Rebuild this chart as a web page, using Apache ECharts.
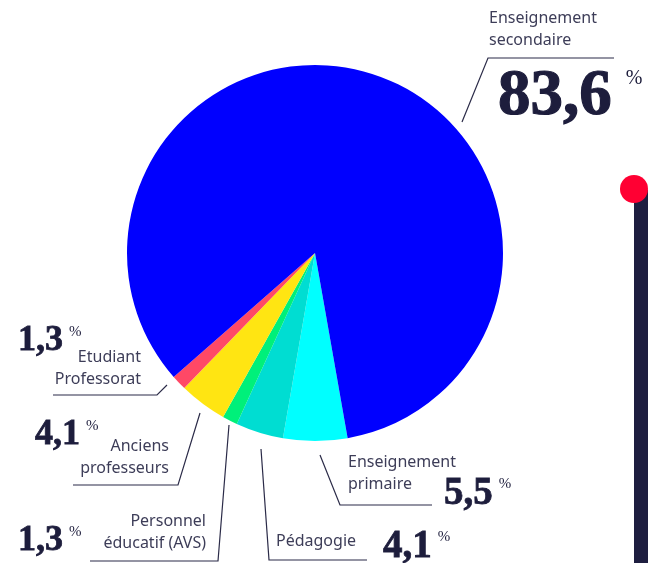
<!DOCTYPE html>
<html><head><meta charset="utf-8">
<script src="https://cdn.jsdelivr.net/npm/echarts@6/dist/echarts.min.js"></script>
<style>html,body{margin:0;padding:0;background:#fff}#c{width:648px;height:563px}</style>
</head><body><div id="c"></div>
<script>
// ---- data ----
const categories = ['Enseignement\nprimaire', 'Pédagogie', 'Personnel\néducatif (AVS)', 'Anciens\nprofesseurs', 'Etudiant\nProfessorat', 'Enseignement\nsecondaire'];
const values = [5.5, 4.1, 1.3, 4.1, 1.3, 83.6];
const valueLabels = ['5,5', '4,1', '1,3', '4,1', '1,3', '83,6'];

// ---- styles / layout ----
const colors = ['#00FFFF', '#00DDD2', '#00F07A', '#FFE512', '#FF4866', '#0000FF'];
const nameLayout = [
  {x: 348, y: 473, align: 'left',  line: [[320, 455], [340, 505], [432, 505]]},
  {x: 276, y: 541, align: 'left',  line: [[261, 449], [269, 560], [367, 560]]},
  {x: 206, y: 532, align: 'right', line: [[229, 425], [218, 561], [90, 561]]},
  {x: 169, y: 457, align: 'right', line: [[200, 413], [178, 485], [73, 485]]},
  {x: 141, y: 368, align: 'right', line: [[167, 385], [157, 395], [53, 395]]},
  {x: 489, y: 29,  align: 'left',  line: [[462, 122], [488, 58], [614, 58]]}
];
const numLayout = [
  {x: 444, y: 494, s: 'm'},
  {x: 383, y: 547, s: 'm'},
  {x: 18,  y: 541, s: 's'},
  {x: 35,  y: 435, s: 's'},
  {x: 18,  y: 341, s: 's'},
  {x: 498, y: 97,  s: 'b'}
];
const numColor = '#1d1d3c';
const numFont = '"Liberation Serif", "DejaVu Serif", serif';

const pieData = values.map((v, i) => ({name: categories[i], value: v, itemStyle: {color: colors[i]}}));

const chart = echarts.init(document.getElementById('c'), null, {renderer: 'canvas'});
chart.setOption({
  animation: false,
  backgroundColor: '#ffffff',
  graphic: [
    {type: 'rect', shape: {x: 634, y: 190, width: 20, height: 380}, style: {fill: '#1e1e40'}, z: 1},
    {type: 'circle', shape: {cx: 634, cy: 189, r: 14}, style: {fill: '#FF0033'}, z: 2}
  ],
  series: [
    {
      type: 'pie',
      center: [315, 253],
      radius: 188,
      startAngle: -80,
      clockwise: true,
      avoidLabelOverlap: false,
      emphasis: {disabled: true},
      itemStyle: {borderWidth: 0},
      data: pieData,
      label: {
        show: true,
        position: 'outside',
        formatter: p => p.name,
        fontFamily: '"Noto Sans", sans-serif',
        fontSize: 16,
        lineHeight: 22,
        color: '#3d3d58'
      },
      labelLine: {show: true, lineStyle: {color: '#2b2b48', width: 1.2}},
      labelLayout: function (params) {
        const L = nameLayout[params.dataIndex];
        return {x: L.x, y: L.y, align: L.align, verticalAlign: 'middle', labelLinePoints: L.line};
      }
    },
    {
      type: 'pie',
      center: [315, 253],
      radius: 188,
      startAngle: -80,
      clockwise: true,
      silent: true,
      avoidLabelOverlap: false,
      emphasis: {disabled: true},
      itemStyle: {color: 'rgba(0,0,0,0)', borderWidth: 0},
      data: values.map((v, i) => ({name: categories[i], value: v})),
      labelLine: {show: false},
      label: {
        show: true,
        position: 'outside',
        formatter: p => {
          const s = numLayout[p.dataIndex].s;
          return '{' + s + '|' + valueLabels[p.dataIndex] + '}{' + s + 'p|%}';
        },
        rich: {
          b:  {fontFamily: numFont, fontWeight: 'bold', fontSize: 65, lineHeight: 65, color: numColor, textBorderColor: numColor, textBorderWidth: 1.2},
          bp: {fontFamily: numFont, fontSize: 20, color: numColor, verticalAlign: 'top', padding: [4, 0, 0, 14], lineHeight: 20},
          m:  {fontFamily: numFont, fontWeight: 'bold', fontSize: 39, lineHeight: 39, color: numColor, textBorderColor: numColor, textBorderWidth: 0.8},
          mp: {fontFamily: numFont, fontSize: 15, color: numColor, verticalAlign: 'top', padding: [2, 0, 0, 6], lineHeight: 15},
          s:  {fontFamily: numFont, fontWeight: 'bold', fontSize: 36, lineHeight: 36, color: numColor, textBorderColor: numColor, textBorderWidth: 0.8},
          sp: {fontFamily: numFont, fontSize: 15, color: numColor, verticalAlign: 'top', padding: [2, 0, 0, 6], lineHeight: 15}
        }
      },
      labelLayout: function (params) {
        const L = numLayout[params.dataIndex];
        return {x: L.x, y: L.y, align: 'left', verticalAlign: 'middle'};
      }
    }
  ]
});
</script>
</body></html>
